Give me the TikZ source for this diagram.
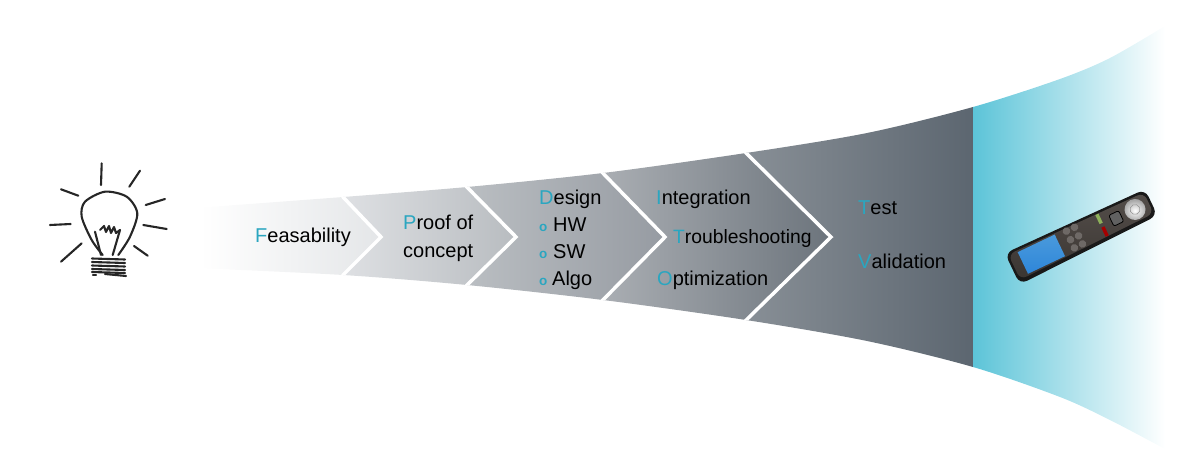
\documentclass[tikz,border=0pt]{standalone}
\usepackage{xcolor}
\usepackage{fontspec}
\setmainfont{Liberation Sans}
\usepackage{tikz}
\definecolor{leadteal}{HTML}{2AA6C0}
\definecolor{endteal}{HTML}{5CC4D8}
\definecolor{keygrey}{HTML}{6E6966}
\definecolor{callgreen}{HTML}{8DB05A}
\newcommand{\lead}[1]{\textcolor{leadteal}{#1}}

\begin{document}
\begin{tikzpicture}[x=1pt, y=-1pt,
    steptext/.style={anchor=base west, inner sep=0pt, font=\fontsize{20}{24}\selectfont},
    subbullet/.style={anchor=base west, inner sep=0pt, text=leadteal, font=\fontsize{13.5}{14}\selectfont\bfseries},
    sketch/.style={line width=2.1pt, line cap=round, line join=round, black!85},
    chevline/.style={white, line width=3.5pt, line join=miter}]
    \useasboundingbox (0,0) rectangle (1200,469);

    % funnel
    \begin{scope}
        \clip plot[smooth] coordinates {(195,208) (343,197) (467,187) (603,173) (746,153) (867,133) (973,107) (1060,79) (1110,58) (1165,26)}
            -- plot[smooth] coordinates {(1165,449) (1110,420) (1060,397) (973,367) (867,341) (746,320) (603,300) (467,285) (343,275) (195,268)} -- cycle;
        \shade[left color=white, right color={rgb,255:red,228;green,230;blue,232}]
            (200,150) -- (343,150) -- (343,197) -- (381,237) -- (343,275) -- (343,320) -- (200,320) -- cycle;
        \shade[left color={rgb,255:red,222;green,224;blue,227}, right color={rgb,255:red,184;green,188;blue,192}]
            (343,150) -- (467,150) -- (467,187) -- (516,237) -- (467,285) -- (467,330) -- (343,330) -- (343,275) -- (381,237) -- (343,197) -- cycle;
        \shade[left color={rgb,255:red,186;green,190;blue,194}, right color={rgb,255:red,150;green,155;blue,162}]
            (467,140) -- (603,140) -- (603,173) -- (665,237) -- (603,300) -- (603,340) -- (467,340) -- (467,285) -- (516,237) -- (467,187) -- cycle;
        \shade[left color={rgb,255:red,170;green,174;blue,179}, right color={rgb,255:red,108;green,116;blue,124}]
            (603,120) -- (746,120) -- (746,153) -- (831,237) -- (746,320) -- (746,350) -- (603,350) -- (603,300) -- (665,237) -- (603,173) -- cycle;
        \shade[left color={rgb,255:red,136;green,143;blue,150}, middle color={rgb,255:red,104;green,113;blue,121}, right color={rgb,255:red,92;green,102;blue,112}]
            (746,90) -- (973,90) -- (973,380) -- (746,380) -- (746,320) -- (831,237) -- (746,153) -- cycle;
        \shade[left color=endteal, middle color={rgb,255:red,138;green,212;blue,226}, right color=white]
            (973,10) rectangle (1165,460);
        \draw[chevline] (343,190) -- (343,197) -- (381,237) -- (343,275) -- (343,282);
        \draw[chevline] (460,180) -- (516,237) -- (460,292);
        \draw[chevline] (594,164) -- (665,237) -- (594,309);
        \draw[chevline] (736,143) -- (831,237) -- (736,330);
    \end{scope}

    % step texts
    \node[steptext] (feasability) at (255,242) {\lead{F}easability};
    \node[steptext] (proof) at (403,229) {\lead{P}roof of};
    \node[steptext] (concept) at (403,257) {concept};
    \node[steptext] (design) at (539,204) {\lead{D}esign};
    \node[subbullet] (bulhw) at (539,231) {o};
    \node[steptext] (hw) at (553,231) {HW};
    \node[subbullet] (bulsw) at (539,258) {o};
    \node[steptext] (sw) at (553,258) {SW};
    \node[subbullet] (bulalgo) at (539,285) {o};
    \node[steptext] (algo) at (552,285) {Algo};
    \node[steptext] (integration) at (656,204) {\lead{I}ntegration};
    \node[steptext, font=\fontsize{19.3}{24}\selectfont] (trouble) at (673,243) {\lead{T}roubleshooting};
    \node[steptext] (optim) at (657,285) {\lead{O}ptimization};
    \node[steptext] (test) at (858,214) {\lead{T}est};
    \node[steptext] (validation) at (858,268) {\lead{V}alidation};

    % light bulb
    \draw[sketch] (101.7,163.3) -- (101,185);
    \draw[sketch] (140,170.7) -- (129.3,186.7);
    \draw[sketch] (165,199) -- (145.7,205);
    \draw[sketch] (143.3,225) -- (166.7,229);
    \draw[sketch] (134,246) -- (147.7,255.7);
    \draw[sketch] (81.7,243.3) -- (61,261.7);
    \draw[sketch] (70.7,224) -- (50,225);
    \draw[sketch] (78.3,195.7) -- (61,189.3);
    \draw[sketch] plot[smooth] coordinates {(102.7,255) (91.7,240) (81.7,216.7) (85,201.7) (105,191.7) (126.7,196.7) (137.3,213.3) (130,236.7) (118.3,255)};
    \draw[sketch] (95,231.7) -- (101,255);
    \draw[sketch] (120,230) -- (112.7,255);
    \draw[sketch] (100,230) -- (104,226) -- (106,232) -- (109,226) -- (111,233) -- (114,227) -- (116,233) -- (120,230);
    \foreach \y in {258.5,262,265.5,269,272} {
        \draw[sketch] (92,\y) -- (125,\y+1);
    }
    \draw[sketch] (93,275) -- (96,275);
    \draw[sketch] (105,274) -- (126,276);

    % remote control
    \begin{scope}[shift={(1081.5,235)}, rotate=25.5]
        \fill[black!90, rounded corners=8pt] (-77,-16.5) -- (77,-14) -- (77,15) -- (-77,18) -- cycle;
        \shade[top color={rgb,255:red,84;green,78;blue,74}, bottom color={rgb,255:red,58;green,53;blue,50}, rounded corners=7pt]
            (-74.5,-14) -- (74.5,-11.5) -- (74.5,11.5) -- (-74.5,14) -- cycle;
        \shade[top color={rgb,255:red,74;green,154;blue,219}, middle color={rgb,255:red,26;green,98;blue,168}, bottom color={rgb,255:red,46;green,134;blue,218}]
            (-65,-12) rectangle (-24,12);
        \foreach \u in {-12,-3} {
            \foreach \v in {-10,-0.5,8.5} {
                \fill[keygrey] (\u,\v) circle (3.8);
            }
        }
        \fill[callgreen] (21,-12) rectangle (24.5,-2);
        \fill[red!65!black] (21,2) rectangle (24.5,12);
        \draw[black, line width=0.8pt, fill=black!62, rounded corners=2pt] (33,-6) rectangle (44,6);
        \shade[inner color=white, outer color=black!35] (59.3,0) circle (10.5);
        \draw[black!40, line width=0.6pt] (59.3,0) circle (5);
    \end{scope}
\end{tikzpicture}
\end{document}
